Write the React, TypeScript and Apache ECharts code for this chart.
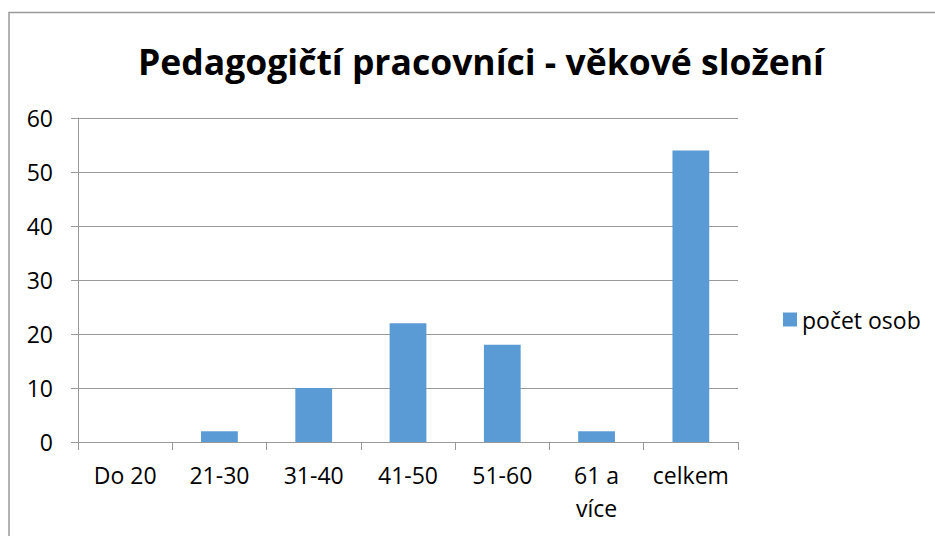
import React, { useEffect, useRef } from "react";
import * as echarts from "echarts";

const titleText = "Pedagogičtí pracovníci - věkové složení";
const categories = ["Do 20", "21-30", "31-40", "41-50", "51-60", "61 a\nvíce", "celkem"];
const seriesName = "počet osob";
const values = [0, 2, 10, 22, 18, 2, 54];

const FONT = "'Open Sans', 'Noto Sans', sans-serif";

export default function App() {
  const ref = useRef<HTMLDivElement>(null);
  useEffect(() => {
    if (!ref.current) return;
    const chart = echarts.init(ref.current, null, { renderer: "svg" });
    chart.setOption({
      animation: false,
      backgroundColor: "#fff",
      title: {
        text: titleText,
        left: 476,
        textAlign: "center",
        top: 38,
        textStyle: { fontFamily: FONT, fontSize: 35.5, fontWeight: "bold", color: "#000" },
      },
      legend: {
        data: [seriesName],
        left: 778,
        top: 303,
        icon: "rect",
        itemWidth: 14,
        itemHeight: 14,
        itemGap: 6,
        itemStyle: { borderWidth: 0 },
        textStyle: { fontFamily: FONT, fontSize: 23, color: "#000" },
      },
      graphic: [
        {
          type: "polyline",
          shape: { points: [[9, 600], [9, 12.5], [1000, 12.5]] },
          style: { stroke: "#9a9a9a", lineWidth: 1.5, fill: "none" },
        },
      ],
      grid: { left: 78, right: 197, top: 118, bottom: 94 },
      xAxis: {
        type: "category",
        data: categories,
        axisLine: { show: true, lineStyle: { color: "#999999", width: 1 } },
        axisTick: { show: true, length: 8, alignWithLabel: false, lineStyle: { color: "#999999" } },
        axisLabel: {
          interval: 0,
          margin: 16,
          fontFamily: FONT,
          fontSize: 23,
          color: "#000",
          lineHeight: 33,
          verticalAlign: "top",
        },
      },
      yAxis: {
        type: "value",
        min: 0,
        max: 60,
        interval: 10,
        axisLine: { show: true, lineStyle: { color: "#999999", width: 1 } },
        axisTick: { show: true, length: 7, lineStyle: { color: "#999999" } },
        splitLine: { show: true, lineStyle: { color: "#999999", width: 1 } },
        axisLabel: { margin: 25, fontFamily: FONT, fontSize: 23, color: "#000" },
      },
      series: [
        {
          name: seriesName,
          type: "bar",
          data: values,
          barWidth: "39%",
          itemStyle: { color: "#5B9BD5" },
        },
      ],
    });
    return () => chart.dispose();
  }, []);
  return <div ref={ref} style={{ width: 935, height: 536, position: "absolute", left: 0, top: 0 }} />;
}
